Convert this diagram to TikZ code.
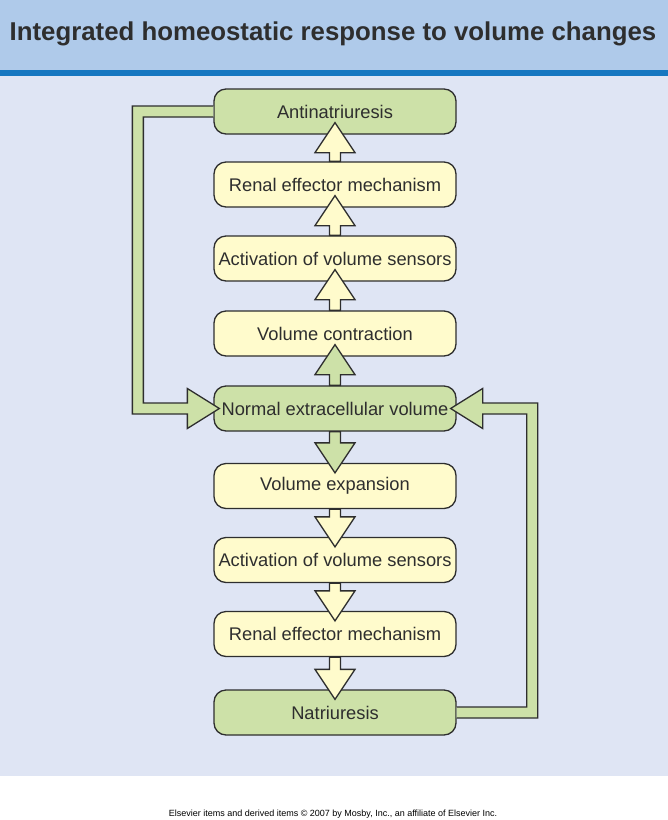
\documentclass[tikz,border=0pt]{standalone}
\usepackage{fontspec}
\setmainfont{Liberation Sans}
\usetikzlibrary{calc}
\definecolor{titlebg}{HTML}{AFCAEA}
\definecolor{titleline}{HTML}{1677C0}
\definecolor{panel}{HTML}{DFE5F4}
\definecolor{boxgreen}{HTML}{CDE1A8}
\definecolor{boxyellow}{HTML}{FFFBCC}
\definecolor{edge}{HTML}{2E2E2E}
\newcommand\blockup[3]{% color, lower (source), upper (target)
  \path let \p1=(#3.south), \p2=(#2.north) in
    [fill=#1, draw=edge, line width=1.3pt, line join=miter]
    (\x1-5.5pt,\y2) -- (\x1-5.5pt,\y1-18pt) -- (\x1-20pt,\y1-18pt) -- (\x1,\y1+12pt)
    -- (\x1+20pt,\y1-18pt) -- (\x1+5.5pt,\y1-18pt) -- (\x1+5.5pt,\y2) -- cycle;}
\newcommand\blockdown[3]{% color, upper (source), lower (target)
  \path let \p1=(#3.north), \p2=(#2.south) in
    [fill=#1, draw=edge, line width=1.3pt, line join=miter]
    (\x1-5.5pt,\y2) -- (\x1-5.5pt,\y1+20pt) -- (\x1-20pt,\y1+20pt) -- (\x1,\y1-10pt)
    -- (\x1+20pt,\y1+20pt) -- (\x1+5.5pt,\y1+20pt) -- (\x1+5.5pt,\y2) -- cycle;}
\begin{document}
\begin{tikzpicture}[x=1pt,y=-1pt,
  box/.style={draw=edge, line width=1.3pt, rounded corners=12pt, minimum width=242pt,
    minimum height=45pt, inner sep=0pt, font=\fontsize{18.3}{21}\selectfont, text=edge},
  ybox/.style={box, fill=boxyellow},
  gbox/.style={box, fill=boxgreen},
  loopband/.style={fill=boxgreen, draw=edge, line width=1.3pt, line join=miter}]
\useasboundingbox (0,0) rectangle (668,820);
\fill[white] (0,0) rectangle (668,820);
\fill[titlebg] (0,0) rectangle (668,70);
\fill[titleline] (0,70) rectangle (668,76);
\fill[panel] (0,76) rectangle (668,776);
\node[font=\bfseries\fontsize{25.8}{30}\selectfont, text=edge] (title) at (333,34)
  {Integrated homeostatic response to volume changes};

\node[gbox] (anti) at (335,111.5) {Antinatriuresis};
\node[ybox] (ren1) at (335,184.5) {Renal effector mechanism};
\node[ybox] (act1) at (335,258.5) {Activation of volume sensors};
\node[ybox] (cont) at (335,333.5) {Volume contraction};
\node[gbox] (norm) at (335,408.5) {Normal extracellular volume};
\node[ybox] (expa) at (335,486) {Volume expansion};
\node[ybox] (act2) at (335,560) {Activation of volume sensors};
\node[ybox] (ren2) at (335,634) {Renal effector mechanism};
\node[gbox] (natr) at (335,712.5) {Natriuresis};

\blockup{boxyellow}{ren1}{anti}
\blockup{boxyellow}{act1}{ren1}
\blockup{boxyellow}{cont}{act1}
\blockup{boxgreen}{norm}{cont}
\blockdown{boxgreen}{norm}{expa}
\blockdown{boxyellow}{expa}{act2}
\blockdown{boxyellow}{act2}{ren2}
\blockdown{boxyellow}{ren2}{natr}

% left feedback loop: Antinatriuresis -> Normal extracellular volume
\path let \p1=(anti.west), \p2=(norm.west) in [loopband]
  (\x1,\y1+5.5pt) -- (\x1-81pt,\y1+5.5pt) -- (\x1-81pt,\y2-5.5pt) -- (\x2-26pt,\y2-5.5pt)
  -- (\x2-26pt,\y2-20pt) -- (\x2+6pt,\y2) -- (\x2-26pt,\y2+20pt) -- (\x2-26pt,\y2+5.5pt)
  -- (\x1-70pt,\y2+5.5pt) -- (\x1-70pt,\y1-5.5pt) -- (\x1,\y1-5.5pt);
% right feedback loop: Natriuresis -> Normal extracellular volume
\path let \p1=(natr.east), \p2=(norm.east) in [loopband]
  (\x1,\y1-5.5pt) -- (\x1+81pt,\y1-5.5pt) -- (\x1+81pt,\y2+5.5pt) -- (\x2+26pt,\y2+5.5pt)
  -- (\x2+26pt,\y2+20pt) -- (\x2-6pt,\y2) -- (\x2+26pt,\y2-20pt) -- (\x2+26pt,\y2-5.5pt)
  -- (\x1+70pt,\y2-5.5pt) -- (\x1+70pt,\y1+5.5pt) -- (\x1,\y1+5.5pt);

\node[font=\fontsize{9}{11}\selectfont, text=black] (foot) at (333,814)
  {Elsevier items and derived items © 2007 by Mosby, Inc., an affiliate of Elsevier Inc.};
\end{tikzpicture}
\end{document}
